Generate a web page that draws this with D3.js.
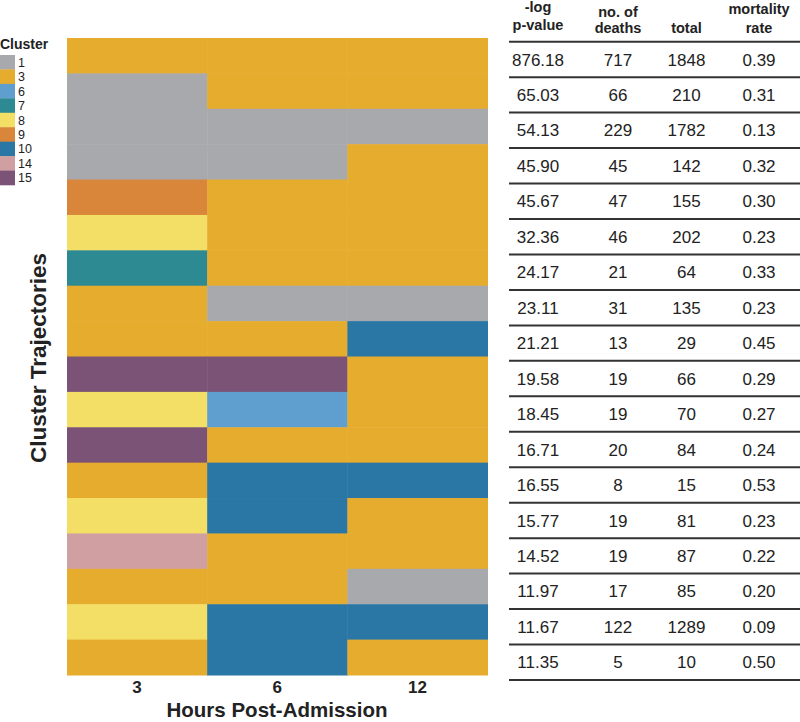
<!DOCTYPE html>
<html><head><meta charset="utf-8">
<script src="https://cdn.jsdelivr.net/npm/d3@7"></script>
<style>body{margin:0;background:#fff;} svg{display:block;font-family:"Liberation Sans",Arial,sans-serif;}</style>
</head><body>
<svg id="c" width="800" height="722"></svg>
<script>
const timepoints = ["3", "6", "12"];
const clusterIds = ["1", "3", "6", "7", "8", "9", "10", "14", "15"];
const clusterColors = ["#A8A9AD", "#E6AC2E", "#5E9FCF", "#2D8A93", "#F3DE66", "#D9853A", "#2A77A6", "#CF9FA1", "#7A5376"];
// trajectories: cluster at hours 3, 6, 12
const trajectories = [
  ["3","3","3"], ["1","3","3"], ["1","1","1"], ["1","1","3"], ["9","3","3"], ["8","3","3"],
  ["7","3","3"], ["3","1","1"], ["3","3","10"], ["15","15","3"], ["8","6","3"], ["15","3","3"],
  ["3","10","10"], ["8","10","3"], ["14","3","3"], ["3","3","1"], ["8","10","10"], ["3","10","3"]
];
const logP = ["876.18","65.03","54.13","45.90","45.67","32.36","24.17","23.11","21.21","19.58","18.45","16.71","16.55","15.77","14.52","11.97","11.67","11.35"];
const deaths = [717,66,229,45,47,46,21,31,13,19,19,20,8,19,19,17,122,5];
const totals = [1848,210,1782,142,155,202,64,135,29,66,70,84,15,81,87,85,1289,10];
const mortality = ["0.39","0.31","0.13","0.32","0.30","0.23","0.33","0.23","0.45","0.29","0.27","0.24","0.53","0.23","0.22","0.20","0.09","0.50"];
const tableHeaders = [["-log","p-value"],["no. of","deaths"],["","total"],["mortality","rate"]];

const svg = d3.select("#c");
const rowIdx = d3.range(trajectories.length);
const color = d3.scaleOrdinal().domain(clusterIds).range(clusterColors);
const x = d3.scaleBand().domain(timepoints).range([67, 487.5]);
const y = d3.scaleBand().domain(rowIdx).range([38, 675]);

// heatmap
const cells = [];
trajectories.forEach((r, i) => r.forEach((c, j) => cells.push({row: i, t: timepoints[j], c})));
svg.append("g").selectAll("rect").data(cells).join("rect")
  .attr("x", d => x(d.t)).attr("y", d => y(d.row))
  .attr("width", x.bandwidth() + 0.5).attr("height", y.bandwidth() + 0.5)
  .attr("fill", d => color(d.c));

// x axis labels
const xAxis = svg.append("g").attr("transform", "translate(0,681)")
  .call(d3.axisBottom(x).tickSize(0).tickPadding(0));
xAxis.select(".domain").remove();
xAxis.selectAll("text").attr("font-size", 17).attr("font-weight", "bold").attr("fill", "#222")
  .attr("font-family", "Liberation Sans, Arial, sans-serif");
svg.append("text").attr("x", 277).attr("y", 717).attr("text-anchor", "middle")
  .attr("font-size", 20.5).attr("font-weight", "bold").attr("fill", "#222").text("Hours Post-Admission");
svg.append("text").attr("transform", "translate(46,358) rotate(-90)").attr("text-anchor", "middle")
  .attr("font-size", 22.5).attr("font-weight", "bold").attr("fill", "#222").text("Cluster Trajectories");

// legend
svg.append("text").attr("x", 0).attr("y", 49).attr("font-size", 14).attr("font-weight", "bold").attr("fill", "#222").text("Cluster");
const ly = d3.scaleBand().domain(clusterIds).range([55, 185]);
const lg = svg.append("g").selectAll("g").data(clusterIds).join("g");
lg.append("rect").attr("x", 0).attr("y", d => ly(d)).attr("width", 15).attr("height", ly.bandwidth() + 0.3).attr("fill", d => color(d));
lg.append("text").attr("x", 18).attr("y", d => ly(d) + ly.bandwidth() / 2).attr("dy", "0.36em")
  .attr("font-size", 12.5).attr("fill", "#222").text(d => d);

// table
const colCenters = [538, 618, 686.5, 759];
const ty = d3.scaleBand().domain(rowIdx).range([41.7, 680]);
const hdr = svg.append("g");
tableHeaders.forEach((h, k) => {
  hdr.append("text").attr("x", colCenters[k]).attr("y", k === 1 ? 17 : (k === 3 ? 14 : 12)).attr("text-anchor", "middle")
    .attr("font-size", 14.5).attr("font-weight", "bold").attr("fill", "#222").text(h[0]);
  hdr.append("text").attr("x", colCenters[k]).attr("y", k === 0 ? 30 : 33).attr("text-anchor", "middle")
    .attr("font-size", 14.5).attr("font-weight", "bold").attr("fill", "#222").text(h[1]);
});
const lines = [41.7].concat(rowIdx.map(i => ty(i) + ty.bandwidth()));
svg.append("g").selectAll("line").data(lines).join("line")
  .attr("x1", 509).attr("x2", 800).attr("y1", d => d).attr("y2", d => d)
  .attr("stroke", "#333").attr("stroke-width", 2);
const tableCols = [logP, deaths, totals, mortality];
const tg = svg.append("g");
tableCols.forEach((col, k) => {
  tg.selectAll(null).data(col).join("text")
    .attr("x", colCenters[k]).attr("y", (d, i) => ty(i) + ty.bandwidth() / 2).attr("dy", "0.36em")
    .attr("text-anchor", "middle").attr("font-size", 17).attr("fill", "#222").text(d => d);
});
</script>
</body></html>
